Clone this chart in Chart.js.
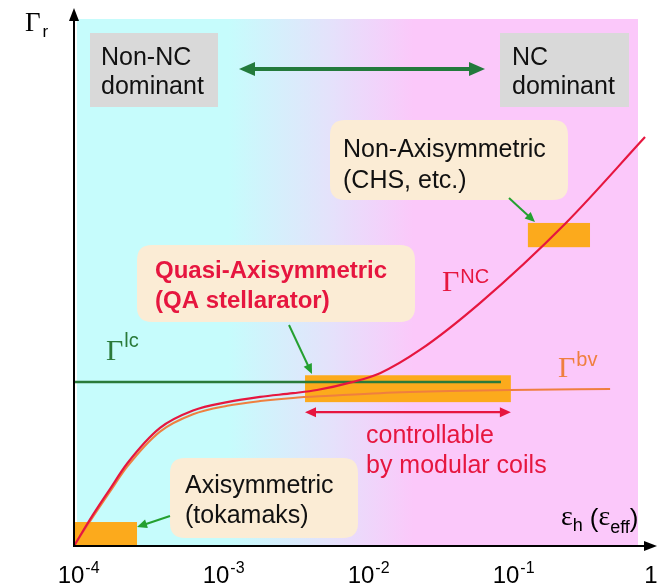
<!DOCTYPE html>
<html><head><meta charset="utf-8">
<script src="https://cdn.jsdelivr.net/npm/chart.js@4.4.1/dist/chart.umd.min.js"></script>
<style>html,body{margin:0;padding:0;background:#fff}canvas{display:block}</style>
</head><body>
<canvas id="c" width="666" height="587"></canvas>
<script>
// Radial flux versus effective helical ripple (schematic, log-x)

// Γ^NC : neoclassical flux
const ncEps  = [1e-4, 1.35e-4, 1.77e-4, 2.32e-4, 3.92e-4, 6.62e-4, 1.14e-3, 1.92e-3, 3.24e-3, 4.74e-3, 8.26e-3, 0.0129, 0.0243, 0.063, 0.247, 0.867];
const ncFlux = [0, 5.9, 10.8, 15.6, 22.4, 25.7, 27.3, 28.3, 29.0, 29.6, 31.1, 32.8, 37.2, 46.1, 61.3, 77.6];

// Γ^bv : banana-plateau flux
const bvEps  = [1e-4, 1.35e-4, 1.77e-4, 2.32e-4, 3.92e-4, 6.62e-4, 1.14e-3, 1.92e-3, 3.24e-3, 5.83e-3, 0.0129, 0.0392, 0.1016, 0.498];
const bvFlux = [0, 5.5, 10.3, 15.0, 21.7, 25.0, 26.6, 27.5, 28.1, 28.5, 29.0, 29.4, 29.6, 29.8];

// Γ^lc : level of the loss-cone flux
const lcEps  = [1e-4, 0.088];
const lcFlux = [31.1, 31.1];

// Operating regimes (orange bands)
const regimeNames   = ['Axisymmetric', 'Quasi-Axisymmetric', 'Non-Axisymmetric'];
const regimeEpsMin  = [1e-4, 3.92e-3, 0.135];
const regimeEpsMax  = [2.72e-4, 0.103, 0.362];
const regimeFluxMin = [0, 27.3, 56.7];
const regimeFluxMax = [4.55, 32.4, 61.3];

// Range controllable by modular coils
const coilRangeEps  = [3.92e-3, 0.103];
const coilRangeFlux = 25.4;

// Axis ticks
const tickValues = [1e-4, 1e-3, 1e-2, 1e-1, 1];
const tickBases  = ['10', '10', '10', '10', '1'];
const tickExps   = ['-4', '-3', '-2', '-1', ''];

const SANS = '"Liberation Sans", Arial, sans-serif';
const SERIF = '"Liberation Serif", "Times New Roman", serif';
const RED = '#e6163f', ORANGE = '#ef7f3f', GREEN = '#2a7a3a', BAND = '#fcaa1c';
const ARROW_GREEN = '#24a030';

function pts(xs, ys) { return xs.map((x, i) => ({ x, y: ys[i] })); }

function roundRect(ctx, x, y, w, h, r) {
  ctx.beginPath();
  ctx.moveTo(x + r, y);
  ctx.lineTo(x + w - r, y); ctx.quadraticCurveTo(x + w, y, x + w, y + r);
  ctx.lineTo(x + w, y + h - r); ctx.quadraticCurveTo(x + w, y + h, x + w - r, y + h);
  ctx.lineTo(x + r, y + h); ctx.quadraticCurveTo(x, y + h, x, y + h - r);
  ctx.lineTo(x, y + r); ctx.quadraticCurveTo(x, y, x + r, y);
  ctx.closePath();
}

function arrowHead(ctx, x1, y1, x2, y2, len, wid) {
  const a = Math.atan2(y2 - y1, x2 - x1);
  ctx.beginPath();
  ctx.moveTo(x2, y2);
  ctx.lineTo(x2 - len * Math.cos(a) + wid / 2 * Math.sin(a), y2 - len * Math.sin(a) - wid / 2 * Math.cos(a));
  ctx.lineTo(x2 - len * Math.cos(a) - wid / 2 * Math.sin(a), y2 - len * Math.sin(a) + wid / 2 * Math.cos(a));
  ctx.closePath();
  ctx.fill();
}

function arrow(ctx, x1, y1, x2, y2, color, lw, len, wid, both) {
  const a = Math.atan2(y2 - y1, x2 - x1);
  ctx.save();
  ctx.strokeStyle = color; ctx.fillStyle = color; ctx.lineWidth = lw;
  ctx.beginPath();
  ctx.moveTo(both ? x1 + len * 0.8 * Math.cos(a) : x1, both ? y1 + len * 0.8 * Math.sin(a) : y1);
  ctx.lineTo(x2 - len * 0.8 * Math.cos(a), y2 - len * 0.8 * Math.sin(a));
  ctx.stroke();
  arrowHead(ctx, x1, y1, x2, y2, len, wid);
  if (both) arrowHead(ctx, x2, y2, x1, y1, len, wid);
  ctx.restore();
}

// Draw a run of text pieces with individual fonts and baseline shifts
function rich(ctx, x, y, parts, color) {
  ctx.save();
  ctx.fillStyle = color; ctx.textBaseline = 'alphabetic'; ctx.textAlign = 'left';
  let cx = x;
  for (const p of parts) {
    ctx.font = p.f;
    ctx.fillText(p.t, cx + (p.dx || 0), y + (p.dy || 0));
    cx += ctx.measureText(p.t).width + (p.dx || 0);
  }
  ctx.restore();
}

const decor = {
  id: 'decor',
  beforeDraw(chart) {
    const { ctx, chartArea: a } = chart;
    ctx.save();
    const x0 = a.left + 3, x1 = a.right - 16;
    const g = ctx.createLinearGradient(x0, 0, x1, 0);
    g.addColorStop(0, '#c6fcfc');
    g.addColorStop(0.27, '#c6fcfc');
    g.addColorStop(0.45, '#e4e2fb');
    g.addColorStop(0.6, '#fbc8fa');
    g.addColorStop(1, '#fbc8fa');
    ctx.fillStyle = g;
    ctx.fillRect(x0, a.top, x1 - x0, a.bottom - a.top);
    ctx.restore();
  },
  beforeDatasetsDraw(chart) {
    const { ctx } = chart;
    const xs = chart.scales.x, ys = chart.scales.y;
    ctx.save();
    // "dominant" captions
    ctx.fillStyle = '#d9d9d9';
    ctx.fillRect(90, 33, 128, 74);
    ctx.fillRect(500, 33, 129, 74);
    // note boxes
    ctx.fillStyle = '#fbecd5';
    roundRect(ctx, 330, 120, 238, 80, 15); ctx.fill();
    roundRect(ctx, 137, 245, 278, 77, 15); ctx.fill();
    roundRect(ctx, 170, 458, 188, 80, 15); ctx.fill();
    // regime bands
    ctx.fillStyle = BAND;
    for (let i = 0; i < regimeNames.length; i++) {
      const l = xs.getPixelForValue(regimeEpsMin[i]), r = xs.getPixelForValue(regimeEpsMax[i]);
      const t = ys.getPixelForValue(regimeFluxMax[i]), b = ys.getPixelForValue(regimeFluxMin[i]);
      ctx.fillRect(l, t, r - l, b - t);
    }
    ctx.restore();
  },
  afterDatasetsDraw(chart) {
    const { ctx, chartArea: a } = chart;
    const xs = chart.scales.x, ys = chart.scales.y;
    ctx.save();
    // axes
    arrow(ctx, a.left, a.bottom + 1, a.left, 8, '#000', 2, 13, 10, false);
    arrow(ctx, a.left - 1, a.bottom, 657, a.bottom, '#000', 2, 13, 10, false);

    // tick labels
    for (let i = 0; i < tickValues.length; i++) {
      const px = xs.getPixelForValue(tickValues[i]);
      ctx.font = '24px ' + SANS;
      const w = ctx.measureText(tickBases[i]).width;
      rich(ctx, px - w / 2 - 3, 583, [
        { t: tickBases[i], f: '24px ' + SANS },
        { t: tickExps[i], f: '16px ' + SANS, dy: -10, dx: 1 }
      ], '#000');
    }

    // axis titles
    rich(ctx, 25, 31, [
      { t: 'Γ', f: '27px ' + SERIF },
      { t: 'r', f: '17px ' + SANS, dy: 6, dx: 2 }
    ], '#000');
    rich(ctx, 561, 525, [
      { t: 'ε', f: '28px ' + SERIF },
      { t: 'h', f: '18px ' + SANS, dy: 6 },
      { t: '(', f: '26px ' + SANS, dx: 7, dy: 2 },
      { t: 'ε', f: '28px ' + SERIF },
      { t: 'eff', f: '18px ' + SANS, dy: 8 },
      { t: ')', f: '26px ' + SANS, dy: 2 }
    ], '#000');

    // curve labels
    rich(ctx, 106, 360, [
      { t: 'Γ', f: '30px ' + SERIF },
      { t: 'lc', f: '20px ' + SANS, dy: -13, dx: 1 }
    ], GREEN);
    rich(ctx, 442, 291, [
      { t: 'Γ', f: '30px ' + SERIF },
      { t: 'NC', f: '20px ' + SANS, dy: -8, dx: 1 }
    ], RED);
    rich(ctx, 558, 377, [
      { t: 'Γ', f: '30px ' + SERIF },
      { t: 'bv', f: '20px ' + SANS, dy: -11, dx: 1 }
    ], ORANGE);

    // NC / non-NC dominance arrow
    arrow(ctx, 239, 69, 485, 69, '#237a3c', 4, 16, 14, true);

    // controllable range
    const cl = xs.getPixelForValue(coilRangeEps[0]), cr = xs.getPixelForValue(coilRangeEps[1]);
    const cy = ys.getPixelForValue(coilRangeFlux);
    arrow(ctx, cl, cy, cr, cy, RED, 2.2, 11, 10, true);

    // pointers to the regime bands
    arrow(ctx, 289, 325, 312, 374, ARROW_GREEN, 2, 10, 9, false);
    arrow(ctx, 509, 198, 535, 222, ARROW_GREEN, 2, 10, 9, false);
    arrow(ctx, 170, 516, 137, 527, ARROW_GREEN, 2, 10, 9, false);

    // captions
    ctx.fillStyle = '#111';
    ctx.font = '25px ' + SANS;
    ctx.textBaseline = 'alphabetic';
    ctx.fillText('Non-NC', 101, 65);
    ctx.fillText('dominant', 101, 94);
    ctx.fillText('NC', 512, 65);
    ctx.fillText('dominant', 512, 94);
    ctx.fillText('Non-Axisymmetric', 343, 157);
    ctx.fillText('(CHS, etc.)', 343, 188);
    ctx.fillText('Axisymmetric', 185, 493);
    ctx.fillText('(tokamaks)', 185, 523);
    ctx.fillStyle = RED;
    ctx.font = 'bold 24px ' + SANS;
    ctx.fillText('Quasi-Axisymmetric', 155, 278);
    ctx.fillText('(QA stellarator)', 155, 308);
    ctx.font = '25px ' + SANS;
    ctx.fillText('controllable', 366, 443);
    ctx.fillText('by modular coils', 366, 473);
    ctx.restore();
  }
};

new Chart(document.getElementById('c'), {
  type: 'line',
  data: {
    datasets: [
      { label: 'Γlc', data: pts(lcEps, lcFlux), borderColor: GREEN, borderWidth: 2.5, pointRadius: 0, order: 3 },
      { label: 'Γbv', data: pts(bvEps, bvFlux), borderColor: ORANGE, borderWidth: 2, pointRadius: 0, cubicInterpolationMode: 'monotone', order: 2 },
      { label: 'ΓNC', data: pts(ncEps, ncFlux), borderColor: RED, borderWidth: 2.2, pointRadius: 0, cubicInterpolationMode: 'monotone', order: 1 }
    ]
  },
  options: {
    responsive: false,
    animation: false,
    devicePixelRatio: 1,
    layout: { padding: { left: 74, right: 12, top: 19, bottom: 41 } },
    plugins: { legend: { display: false }, tooltip: { enabled: false } },
    scales: {
      x: { type: 'logarithmic', min: 1e-4, max: 1, display: false },
      y: { type: 'linear', min: 0, max: 100, display: false }
    }
  },
  plugins: [decor]
});
</script>
</body></html>
